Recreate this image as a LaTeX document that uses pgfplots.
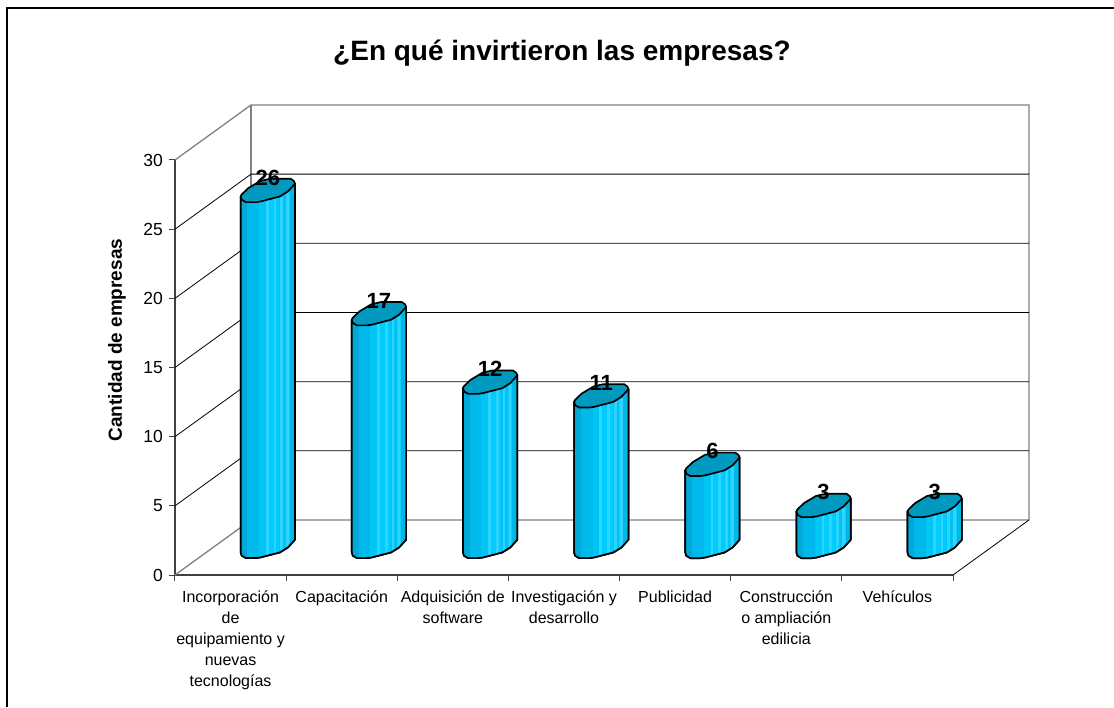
\documentclass[border=0pt]{standalone}
\usepackage{pgfplots}
\pgfplotsset{compat=1.18}
\usepackage{pgfplotstable}
\usepackage{fontspec}
\setmainfont{Liberation Sans}

\definecolor{capblue}{HTML}{0099BF}
\definecolor{bandA}{HTML}{00A9D8}
\definecolor{bandB}{HTML}{00B9EA}
\definecolor{bandC}{HTML}{00C6F6}
\definecolor{bandD}{HTML}{00CCFF}
\definecolor{bandE}{HTML}{00C3F3}
\definecolor{bandF}{HTML}{14CDFF}
\definecolor{bandG}{HTML}{00B8E8}
\definecolor{stripe}{HTML}{2CD4FF}

% one cylinder, drawn around the centre of its top cap (1pt = 1px of the reference)
\pgfdeclareplotmark{cylinder}{%
  \pgfmathsetmacro{\h}{\barval*13.69}%
  \begin{scope}[x=1pt,y=1pt,line width=1.7pt,line join=round]
    \def\body{(-27.1,-6) -- (-27.1,-6-\h) -- (-26.1,-9.3-\h) -- (-22,-11.7-\h) -- (-12,-11.7-\h) -- (-7.1,-11-\h)
      -- (12.2,-6-\h) -- (20.2,-1-\h) -- (27.2,6.7-\h) -- (27.2,6.7) -- cycle}
    \begin{scope}
      \clip \body;
      \foreach \xa/\xb/\col in {-28/-19.5/bandA,-19.5/-7.8/bandB,-7.8/0.5/bandC,0.5/12.2/bandD,12.2/18.9/bandE,18.9/22.9/bandF,22.9/28/bandG}
        \fill[\col] (\xa,-20-\h) rectangle (\xb,20);
      \foreach \xa in {-1,6.8,13.5,19.5}
        \fill[stripe] (\xa,-20-\h) rectangle (\xa+1,20);
    \end{scope}
    \draw[black] \body;
    \filldraw[fill=capblue,draw=black] (-27.1,-6) -- (-26.1,-9.3) -- (-22,-11.7) -- (-12,-11.7) -- (-7.1,-11)
      -- (12.2,-6) -- (20.2,-1) -- (27.2,6.7) -- (26.2,9.3) -- (22.9,11.7) -- (2.2,11.7)
      -- (-7.8,9.3) -- (-19.5,2.3) -- (-26.1,-4) -- cycle;
  \end{scope}%
}

\pgfplotstableread{
x v
0 26
1 17
2 12
3 11
4 6
5 3
6 3
}\inversiones

\begin{document}
\begin{tikzpicture}[x=1pt,y=1pt]
  % picture is 1114x707, axis corner sits at pixel (175,575)
  \path[use as bounding box] (-175,-132) rectangle (939,575);
  \draw[black,line width=1.5pt] (-168,-132) -- (-168,567) -- (939,567);
  \begin{axis}[
      at={(0pt,0pt)}, anchor=south west,
      scale only axis, width=778pt, height=415pt,
      xmin=-0.5, xmax=6.5, ymin=0, ymax=30,
      clip=false,
      axis x line*=bottom, axis y line*=left,
      axis line style={-,color=black!75,line width=1.4pt},
      tick align=outside,
      ytick={0,5,...,30},
      xtick={0,...,6},
      xticklabels={
        {Incorporación\\de\\equipamiento y\\nuevas\\tecnologías},
        {Capacitación},
        {Adquisición de\\software},
        {Investigación y\\desarrollo},
        {Publicidad},
        {Construcción\\o ampliación\\edilicia},
        {Vehículos}},
      minor xtick={-0.5,0.5,...,6.5},
      major tick length=6pt, minor tick length=6pt,
      major x tick style={draw=none},
      minor x tick style={black!75,line width=1pt},
      major y tick style={black!75,line width=1pt},
      xticklabel style={font=\fontsize{16}{21}\selectfont,align=center,anchor=north,yshift=-6pt},
      yticklabel style={font=\fontsize{17.5}{20}\selectfont,xshift=-2.5pt,/pgf/number format/assume math mode=true},
      title={¿En qué invirtieron las empresas?},
      every axis title/.style={at={(axis description cs:0.4974,1.258)},anchor=center,
        font=\bfseries\fontsize{28}{30}\selectfont},
      ylabel={Cantidad de empresas},
      every axis y label/.style={at={(axis description cs:-0.0745,0.566)},rotate=90,anchor=center,
        font=\bfseries\fontsize{19}{20}\selectfont},
    ]
    % walls and floor
    \addplot[gray,line width=1.3pt] coordinates {(-0.5,30) (0.184,33.977) (7.184,33.977) (7.184,3.977)};
    \addplot[gray,line width=1.3pt] coordinates {(0.184,33.977) (0.184,3.977)};
    \addplot[gray,line width=1.3pt] coordinates {(-0.5,0) (0.184,3.977) (7.184,3.977)};
    \addplot[black,line width=0.8pt] coordinates {(6.5,0) (7.184,3.977)};
    \addplot[black,line width=0.8pt] coordinates {(-0.5,25) (0.184,28.977) (7.184,28.977)};
    \addplot[black,line width=0.8pt] coordinates {(-0.5,20) (0.184,23.977) (7.184,23.977)};
    \addplot[black,line width=0.8pt] coordinates {(-0.5,15) (0.184,18.977) (7.184,18.977)};
    \addplot[black,line width=0.8pt] coordinates {(-0.5,10) (0.184,13.977) (7.184,13.977)};
    \addplot[black,line width=0.8pt] coordinates {(-0.5,5) (0.184,8.977) (7.184,8.977)};
    % cylinders
    \addplot[
        scatter, only marks, mark=cylinder,
        point meta=explicit,
        visualization depends on={\thisrow{v} \as \barval},
        nodes near coords,
        nodes near coords style={anchor=center,yshift=13pt,xshift=0pt,
          font=\bfseries\fontsize{22}{22}\selectfont,
          /pgf/number format/assume math mode=true},
      ] table[x expr=\thisrow{x}+0.335, y expr=0.99*\thisrow{v}+2.06, meta=v] {\inversiones};
  \end{axis}
\end{tikzpicture}
\end{document}
